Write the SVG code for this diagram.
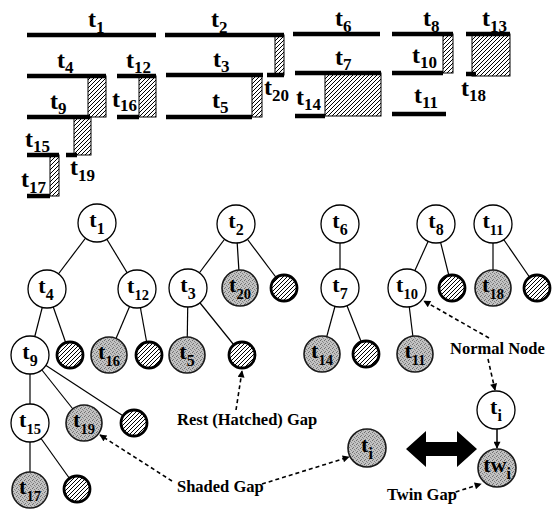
<svg xmlns="http://www.w3.org/2000/svg" width="554" height="510" viewBox="0 0 554 510">
<defs>
<pattern id="hatch" patternUnits="userSpaceOnUse" width="4" height="4">
<rect width="4" height="4" fill="#fff"/>
<path d="M-1,1 l2,-2 M0,4 l4,-4 M3,5 l2,-2" stroke="#000" stroke-width="1"/>
</pattern>
<pattern id="shade" patternUnits="userSpaceOnUse" width="4" height="4">
<rect width="4" height="4" fill="#c2c2c2"/>
<rect x="0" y="0" width="1" height="1" fill="#6e6e6e"/>
<rect x="2" y="1" width="1" height="1" fill="#808080"/>
<rect x="1" y="3" width="1" height="1" fill="#787878"/>
<rect x="3" y="2" width="1" height="1" fill="#909090"/>
</pattern>
<marker id="ah" viewBox="0 0 10 10" refX="9" refY="5" markerWidth="9" markerHeight="7" markerUnits="userSpaceOnUse" orient="auto"><path d="M0,0 L10,5 L0,10 z" fill="#000"/></marker>
</defs>
<style>
.bar{stroke:#000;stroke-width:4.5;fill:none}
.hr{fill:url(#hatch);stroke:#000;stroke-width:1}
.lt{font-family:"Liberation Serif","Times New Roman",serif;font-weight:bold;font-size:24px;fill:#000}
.ls{font-size:17px}
.edge{stroke:#000;stroke-width:1.2;fill:none}
.dash{stroke:#000;stroke-width:1.6;stroke-dasharray:4 3;fill:none;marker-end:url(#ah)}
.solid{stroke:#000;stroke-width:1.5;fill:none;marker-end:url(#ah)}
.wn{fill:#fff;stroke:#000;stroke-width:1.3}
.sn{fill:url(#shade);stroke:#1a1a1a;stroke-width:1.6}
.hn{fill:url(#hatch);stroke:#000;stroke-width:2.8}
.nl{font-family:"Liberation Serif","Times New Roman",serif;font-weight:bold;font-size:22px;text-anchor:middle;fill:#000}
.ns{font-size:16px}
.ns2{font-size:14.5px}
.cap{font-family:"Liberation Serif","Times New Roman",serif;font-weight:bold;font-size:16.5px;fill:#000}
</style>
<rect width="554" height="510" fill="#fff"/>

<!-- interval chart -->
<g id="intervals">
<rect class="hr" x="88" y="76" width="18" height="41"/>
<rect class="hr" x="74" y="117" width="17" height="38"/>
<rect class="hr" x="139" y="76" width="17" height="41"/>
<rect class="hr" x="50" y="155" width="9" height="41"/>
<rect class="hr" x="275" y="35" width="9" height="40"/>
<rect class="hr" x="252" y="75" width="10" height="42"/>
<rect class="hr" x="325" y="73" width="56" height="43"/>
<rect class="hr" x="443" y="34" width="10" height="39"/>
<rect class="hr" x="472" y="34" width="38" height="42"/>
<g id="i-t1"><line class="bar" x1="27" y1="35" x2="156" y2="35"/><text class="lt" x="88" y="27">t<tspan class="ls" dy="6">1</tspan></text></g>
<g id="i-t2"><line class="bar" x1="165" y1="35" x2="284" y2="35"/><text class="lt" x="211" y="27">t<tspan class="ls" dy="6">2</tspan></text></g>
<g id="i-t6"><line class="bar" x1="293" y1="34" x2="380" y2="34"/><text class="lt" x="335" y="26">t<tspan class="ls" dy="6">6</tspan></text></g>
<g id="i-t8"><line class="bar" x1="392" y1="34" x2="453" y2="34"/><text class="lt" x="423" y="26">t<tspan class="ls" dy="6">8</tspan></text></g>
<g id="i-t13"><line class="bar" x1="466" y1="34" x2="510" y2="34"/><text class="lt" x="482" y="26">t<tspan class="ls" dy="6">13</tspan></text></g>
<g id="i-t4"><line class="bar" x1="27" y1="76" x2="106" y2="76"/><text class="lt" x="57" y="68">t<tspan class="ls" dy="5">4</tspan></text></g>
<g id="i-t12"><line class="bar" x1="117" y1="76" x2="156" y2="76"/><text class="lt" x="126" y="68">t<tspan class="ls" dy="5">12</tspan></text></g>
<g id="i-t3"><line class="bar" x1="166" y1="75" x2="263" y2="75"/><text class="lt" x="213" y="67">t<tspan class="ls" dy="5">3</tspan></text></g>
<g id="i-t20"><line class="bar" x1="267" y1="75" x2="284" y2="75"/><text class="lt" x="264" y="95">t<tspan class="ls" dy="6">20</tspan></text></g>
<g id="i-t7"><line class="bar" x1="295" y1="73" x2="381" y2="73"/><text class="lt" x="335" y="65">t<tspan class="ls" dy="5">7</tspan></text></g>
<g id="i-t10"><line class="bar" x1="392" y1="73" x2="443" y2="73"/><text class="lt" x="412" y="63">t<tspan class="ls" dy="5">10</tspan></text></g>
<g id="i-t18"><line class="bar" x1="466" y1="74" x2="476" y2="74"/><text class="lt" x="461" y="96">t<tspan class="ls" dy="5">18</tspan></text></g>
<g id="i-t9"><line class="bar" x1="27" y1="117" x2="90" y2="117"/><text class="lt" x="50" y="109">t<tspan class="ls" dy="5">9</tspan></text></g>
<g id="i-t16"><line class="bar" x1="117" y1="117" x2="139" y2="117"/><text class="lt" x="112" y="107">t<tspan class="ls" dy="4">16</tspan></text></g>
<g id="i-t5"><line class="bar" x1="166" y1="117" x2="252" y2="117"/><text class="lt" x="212" y="108">t<tspan class="ls" dy="5">5</tspan></text></g>
<g id="i-t14"><line class="bar" x1="295" y1="116" x2="325" y2="116"/><text class="lt" x="296" y="105">t<tspan class="ls" dy="5">14</tspan></text></g>
<g id="i-t11"><line class="bar" x1="392" y1="114" x2="446" y2="114"/><text class="lt" x="414" y="103">t<tspan class="ls" dy="5">11</tspan></text></g>
<g id="i-t15"><line class="bar" x1="27" y1="155" x2="59" y2="155"/><text class="lt" x="25" y="147">t<tspan class="ls" dy="5">15</tspan></text></g>
<g id="i-t19"><line class="bar" x1="66" y1="155" x2="77" y2="155"/><text class="lt" x="70" y="175">t<tspan class="ls" dy="6">19</tspan></text></g>
<g id="i-t17"><line class="bar" x1="27" y1="196" x2="50" y2="196"/><text class="lt" x="21" y="187">t<tspan class="ls" dy="6">17</tspan></text></g>
</g>

<!-- connectors -->
<g id="connectors">
<line class="edge" x1="97" y1="223" x2="47" y2="289"/>
<line class="edge" x1="97" y1="223" x2="137" y2="289"/>
<line class="edge" x1="47" y1="289" x2="30" y2="355"/>
<line class="edge" x1="47" y1="289" x2="70" y2="355"/>
<line class="edge" x1="137" y1="289" x2="109" y2="355"/>
<line class="edge" x1="137" y1="289" x2="149" y2="355"/>
<line class="edge" x1="30" y1="355" x2="30" y2="423"/>
<line class="edge" x1="30" y1="355" x2="84" y2="423"/>
<line class="edge" x1="30" y1="355" x2="134" y2="423"/>
<line class="edge" x1="30" y1="423" x2="30" y2="490"/>
<line class="edge" x1="30" y1="423" x2="77" y2="489"/>
<line class="edge" x1="236" y1="224" x2="188" y2="288"/>
<line class="edge" x1="236" y1="224" x2="240" y2="288"/>
<line class="edge" x1="236" y1="224" x2="284" y2="288"/>
<line class="edge" x1="188" y1="288" x2="187" y2="355"/>
<line class="edge" x1="188" y1="288" x2="242" y2="355"/>
<line class="edge" x1="340" y1="224" x2="340" y2="288"/>
<line class="edge" x1="340" y1="288" x2="322" y2="354"/>
<line class="edge" x1="340" y1="288" x2="366" y2="354"/>
<line class="edge" x1="436" y1="224" x2="407" y2="288"/>
<line class="edge" x1="436" y1="224" x2="452" y2="288"/>
<line class="edge" x1="407" y1="288" x2="415" y2="354"/>
<line class="edge" x1="493" y1="224" x2="493" y2="288"/>
<line class="edge" x1="493" y1="224" x2="537" y2="288"/>
<path class="dash" d="M236,410 L242,371"/>
<path class="dash" d="M172,481 L100,435"/>
<path class="dash" d="M262,484 L349,457"/>
<path class="dash" d="M489,338 L424,301"/>
<path class="dash" d="M488,359 L495,390"/>
<path class="dash" d="M449,494 L481,484"/>
<path class="solid" d="M497,429 L497,448"/>
<polygon points="406,449 426,431 426,442 457,442 457,431 477,449 457,467 457,456 426,456 426,467" fill="#000"/>
</g>

<!-- nodes -->
<g id="n-t1"><circle class="wn" cx="97" cy="223" r="19"/><text class="nl" x="97" y="227">t<tspan class="ns" dy="7">1</tspan></text></g>
<g id="n-t4"><circle class="wn" cx="47" cy="289" r="19"/><text class="nl" x="46" y="293">t<tspan class="ns" dy="7">4</tspan></text></g>
<g id="n-t12"><circle class="wn" cx="137" cy="289" r="19"/><text class="nl" x="138" y="293">t<tspan class="ns2" dy="7">12</tspan></text></g>
<g id="n-t9"><circle class="wn" cx="30" cy="355" r="19"/><text class="nl" x="30" y="359">t<tspan class="ns" dy="7">9</tspan></text></g>
<g id="n-h4"><circle class="hn" cx="70" cy="355" r="13"/></g>
<g id="n-t16"><circle class="sn" cx="109" cy="355" r="18"/><text class="nl" x="109" y="359">t<tspan class="ns2" dy="7">16</tspan></text></g>
<g id="n-h12"><circle class="hn" cx="149" cy="355" r="13"/></g>
<g id="n-t15"><circle class="wn" cx="30" cy="423" r="19"/><text class="nl" x="30" y="427">t<tspan class="ns2" dy="7">15</tspan></text></g>
<g id="n-t19"><circle class="sn" cx="84" cy="423" r="18"/><text class="nl" x="84" y="427">t<tspan class="ns2" dy="7">19</tspan></text></g>
<g id="n-h9"><circle class="hn" cx="134" cy="423" r="13"/></g>
<g id="n-t17"><circle class="sn" cx="30" cy="490" r="18"/><text class="nl" x="30" y="494">t<tspan class="ns2" dy="7">17</tspan></text></g>
<g id="n-h15"><circle class="hn" cx="77" cy="489" r="13"/></g>
<g id="n-t2"><circle class="wn" cx="236" cy="224" r="19"/><text class="nl" x="236" y="228">t<tspan class="ns" dy="7">2</tspan></text></g>
<g id="n-t3"><circle class="wn" cx="188" cy="288" r="19"/><text class="nl" x="188" y="292">t<tspan class="ns" dy="7">3</tspan></text></g>
<g id="n-t20"><circle class="sn" cx="240" cy="288" r="18"/><text class="nl" x="240" y="292">t<tspan class="ns2" dy="7">20</tspan></text></g>
<g id="n-h2"><circle class="hn" cx="284" cy="288" r="13"/></g>
<g id="n-t5"><circle class="sn" cx="187" cy="355" r="18"/><text class="nl" x="187" y="359">t<tspan class="ns" dy="7">5</tspan></text></g>
<g id="n-h3"><circle class="hn" cx="242" cy="355" r="13"/></g>
<g id="n-t6"><circle class="wn" cx="340" cy="224" r="19"/><text class="nl" x="340" y="228">t<tspan class="ns" dy="7">6</tspan></text></g>
<g id="n-t7"><circle class="wn" cx="340" cy="288" r="19"/><text class="nl" x="340" y="292">t<tspan class="ns" dy="7">7</tspan></text></g>
<g id="n-t14"><circle class="sn" cx="322" cy="354" r="18"/><text class="nl" x="322" y="358">t<tspan class="ns2" dy="7">14</tspan></text></g>
<g id="n-h7"><circle class="hn" cx="366" cy="354" r="13"/></g>
<g id="n-t8"><circle class="wn" cx="436" cy="224" r="19"/><text class="nl" x="436" y="228">t<tspan class="ns" dy="7">8</tspan></text></g>
<g id="n-t10"><circle class="wn" cx="407" cy="288" r="19"/><text class="nl" x="407" y="292">t<tspan class="ns2" dy="7">10</tspan></text></g>
<g id="n-h8"><circle class="hn" cx="452" cy="288" r="13"/></g>
<g id="n-t11b"><circle class="sn" cx="415" cy="354" r="18"/><text class="nl" x="415" y="358">t<tspan class="ns2" dy="7">11</tspan></text></g>
<g id="n-t11"><circle class="wn" cx="493" cy="224" r="19"/><text class="nl" x="493" y="228">t<tspan class="ns2" dy="7">11</tspan></text></g>
<g id="n-t18"><circle class="sn" cx="493" cy="288" r="18"/><text class="nl" x="493" y="292">t<tspan class="ns2" dy="7">18</tspan></text></g>
<g id="n-h11"><circle class="hn" cx="537" cy="288" r="13"/></g>
<g id="n-ti"><circle class="wn" cx="496" cy="410" r="19"/><text class="nl" x="496" y="414">t<tspan class="ns" dy="7">i</tspan></text></g>
<g id="n-twi"><circle class="sn" cx="497" cy="468" r="19"/><text class="nl" x="497" y="472">tw<tspan class="ns" dy="7">i</tspan></text></g>
<g id="n-tis"><circle class="sn" cx="367" cy="448" r="19"/><text class="nl" x="367" y="452">t<tspan class="ns" dy="7">i</tspan></text></g>

<!-- captions -->
<text class="cap" x="177" y="425">Rest (Hatched) Gap</text>
<text class="cap" x="177" y="492">Shaded Gap</text>
<text class="cap" x="450" y="354">Normal Node</text>
<text class="cap" x="387" y="500">Twin Gap</text>
</svg>
